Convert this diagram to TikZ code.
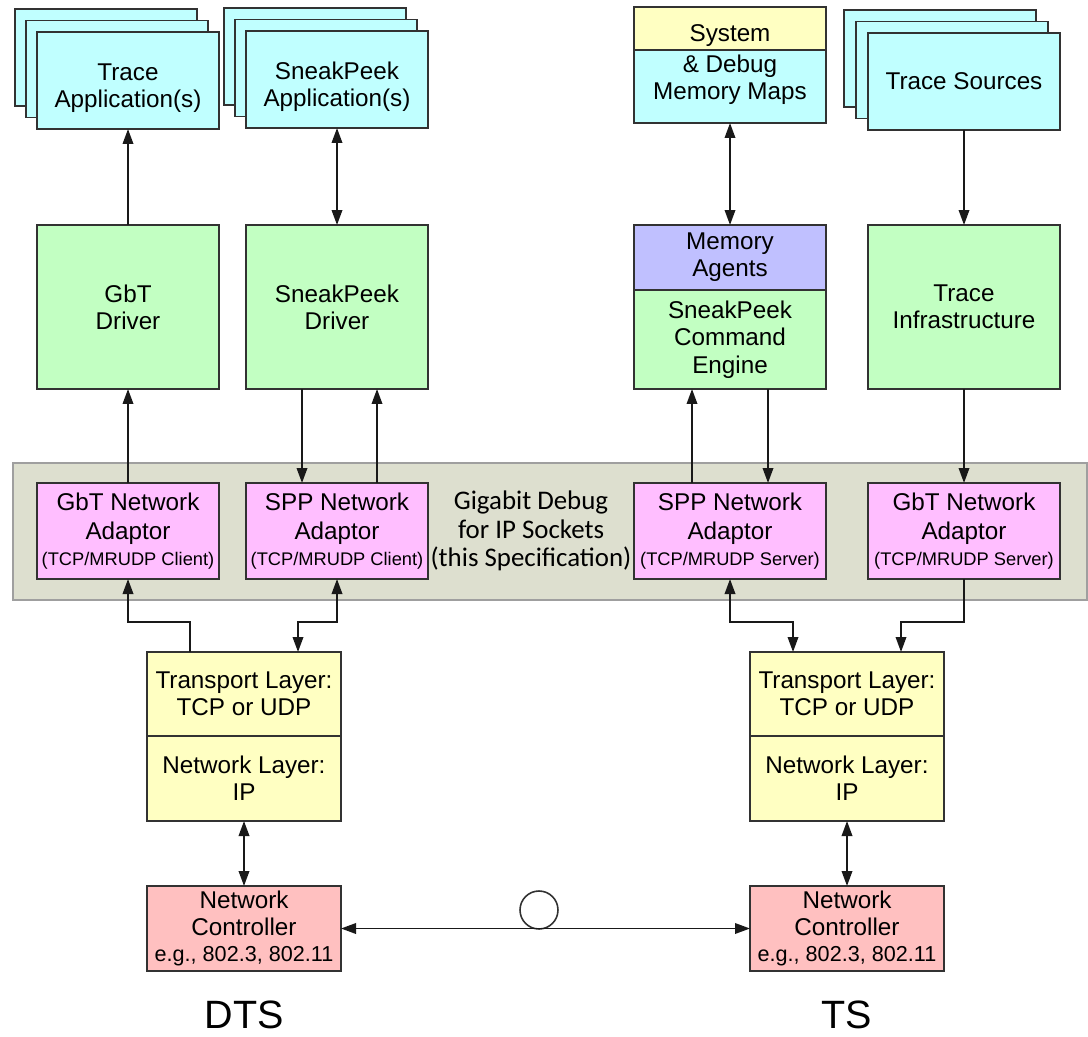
\documentclass[tikz,border=0pt]{standalone}
\usepackage{fontspec}
\setmainfont{Liberation Sans}
\newfontfamily\calfont{Carlito}
\usetikzlibrary{arrows.meta,calc}

\definecolor{appcyan}{RGB}{192,255,255}
\definecolor{drvgreen}{RGB}{194,255,194}
\definecolor{agentblue}{RGB}{192,192,255}
\definecolor{layeryellow}{RGB}{255,255,194}
\definecolor{adaptpink}{RGB}{255,190,255}
\definecolor{ctrlred}{RGB}{255,192,192}
\definecolor{bandgray}{RGB}{221,223,207}
\definecolor{edgegray}{RGB}{50,50,50}

\newcommand{\smalltxt}{\fontsize{10.4}{12}\selectfont}
\newcommand{\egtxt}{\fontsize{12.3}{14}\selectfont}

\begin{document}
\begin{tikzpicture}[x=0.02cm,y=-0.02cm,
  % a box given by its corners (x1,y1) and (x2,y2), in pixels
  rect/.style n args={4}{at={({(#1+#3)/2},{(#2+#4)/2})},
    minimum width={(#3-#1)*0.02cm}, minimum height={(#4-#2)*0.02cm}},
  blk/.style={draw=edgegray, line width=1.05pt, inner sep=0pt, outer sep=0pt,
    align=center, font=\fontsize{13.8}{15.5}\selectfont},
  cyanbox/.style={blk, fill=appcyan},
  greenbox/.style={blk, fill=drvgreen},
  pinkbox/.style={blk, fill=adaptpink},
  yellowbox/.style={blk, fill=layeryellow},
  redbox/.style={blk, fill=ctrlred},
  link/.style={line width=1.1pt, draw=black!90},
  tip/.style={-{Triangle[length=0.3cm,width=0.21cm]}},
  tipback/.style={{Triangle[length=0.3cm,width=0.21cm]}-},
  tipboth/.style={{Triangle[length=0.3cm,width=0.21cm]}-{Triangle[length=0.3cm,width=0.21cm]}}
]
\useasboundingbox (0,0) rectangle (1088,1037);

% ---------- application stacks and memory maps ----------
\node[cyanbox, rect={15}{9}{197}{106}] (tappC) {};
\node[cyanbox, rect={26}{20.5}{208}{117.5}] (tappB) {};
\node[cyanbox, rect={37}{32}{219}{129}] (tapp) {\rule{0pt}{18pt}Trace\\Application(s)};

\node[cyanbox, rect={224}{8}{406}{105}] (sappC) {};
\node[cyanbox, rect={235}{19.5}{417}{116.5}] (sappB) {};
\node[cyanbox, rect={246}{31}{428}{128}] (sapp) {\rule{0pt}{18pt}SneakPeek\\Application(s)};

% memory map box: yellow top band, one text block over the whole box
\node[cyanbox, rect={634}{7}{826}{123}] (mapsbg) {};
\node[yellowbox, rect={634}{7}{826}{50}] (sysmap) {};
\node[blk, rect={634}{7}{826}{123}] (memmaps) {System\\[2pt]\& Debug\\Memory Maps};

\node[cyanbox, rect={844}{10}{1036}{107}] (tsrcC) {};
\node[cyanbox, rect={856}{21.5}{1048}{118.5}] (tsrcB) {};
\node[cyanbox, rect={868}{33}{1060}{130}] (tsrc) {Trace Sources};

% ---------- drivers and engines ----------
\node[greenbox, rect={37}{225}{219}{389}] (gbtdrv) {GbT\\Driver};
\node[greenbox, rect={246}{225}{428}{389}] (spdrv) {SneakPeek\\Driver};
\node[blk, fill=agentblue, rect={634}{225}{826}{290}] (agents) {Memory\\Agents};
\node[greenbox, rect={634}{290}{826}{389}] (engine) {SneakPeek\\Command\\Engine};
\node[greenbox, rect={868}{225}{1060}{389}] (infra) {Trace\\Infrastructure};

% ---------- specification band with the network adaptors ----------
\node[draw=gray!75, line width=1pt, fill=bandgray, inner sep=0pt, rect={13}{463}{1087}{600}] (band) {};
\node[align=center, inner sep=0pt, font=\calfont\fontsize{15.3}{16.2}\selectfont] (spec) at (531,531)
  {Gigabit Debug\\for IP Sockets\\(this Specification)};

\node[pinkbox, rect={37}{483}{219}{579}] (gbtcli)
  {GbT Network\\[1pt]Adaptor\\[-1pt]{\smalltxt (TCP/MRUDP Client)}};
\node[pinkbox, rect={246}{483}{428}{579}] (sppcli)
  {SPP Network\\[1pt]Adaptor\\[-1pt]{\smalltxt (TCP/MRUDP Client)}};
\node[pinkbox, rect={634}{483}{826}{579}] (sppsrv)
  {SPP Network\\[1pt]Adaptor\\[-1pt]{\smalltxt (TCP/MRUDP Server)}};
\node[pinkbox, rect={868}{483}{1060}{579}] (gbtsrv)
  {GbT Network\\[1pt]Adaptor\\[-1pt]{\smalltxt (TCP/MRUDP Server)}};

% ---------- protocol stacks and controllers ----------
\node[yellowbox, rect={147}{652}{341}{736}] (transL) {Transport Layer:\\TCP or UDP};
\node[yellowbox, rect={147}{736}{341}{821}] (netL) {Network Layer:\\IP};
\node[redbox, rect={147}{886}{341}{971}] (ncL)
  {Network\\Controller\\[-1pt]{\egtxt e.g., 802.3, 802.11}};

\node[yellowbox, rect={750}{652}{944}{736}] (transR) {Transport Layer:\\TCP or UDP};
\node[yellowbox, rect={750}{736}{944}{821}] (netR) {Network Layer:\\IP};
\node[redbox, rect={750}{886}{944}{971}] (ncR)
  {Network\\Controller\\[-1pt]{\egtxt e.g., 802.3, 802.11}};

\node[draw=edgegray, line width=0.9pt, fill=white, circle, minimum size=0.76cm, inner sep=0pt] (medium) at (539,910) {};

\node[font=\fontsize{22.5}{26}\selectfont, inner sep=0pt] (dts) at (244,1015) {DTS};
\node[font=\fontsize{22.5}{26}\selectfont, inner sep=0pt] (ts) at (847,1015) {TS};

% ---------- connectors: applications <-> drivers ----------
\draw[link,tip] (gbtdrv.north) -- (tapp.south);
\draw[link,tipboth] (spdrv.north) -- (sapp.south);
\draw[link,tipboth] (agents.north) -- (memmaps.south);
\draw[link,tip] (tsrc.south) -- (infra.north);

% ---------- connectors: drivers <-> adaptors ----------
\coordinate (spdn) at ($(spdrv.south west)+(56,0)$);
\coordinate (spup) at ($(spdrv.south west)+(131,0)$);
\coordinate (enup) at ($(engine.south west)+(58,0)$);
\coordinate (endn) at ($(engine.south west)+(134,0)$);

\draw[link,tip] (gbtcli.north) -- (gbtdrv.south);
\draw[link,tip] (spdn) -- (spdn |- sppcli.north);
\draw[link,tip] (spup |- sppcli.north) -- (spup);
\draw[link,tip] (enup |- sppsrv.north) -- (enup);
\draw[link,tip] (endn) -- (endn |- sppsrv.north);
\draw[link,tip] (infra.south) -- (gbtsrv.north);

% ---------- connectors: adaptors <-> transport layers ----------
\coordinate (dL1) at ($(transL.north west)+(43,0)$);
\coordinate (dL2) at ($(transL.north west)+(151,0)$);
\coordinate (dR1) at ($(transR.north west)+(43,0)$);
\coordinate (dR2) at ($(transR.north west)+(151,0)$);

\draw[link,tip] (dL1) -- ++(0,-30) -| (gbtcli.south);
\draw[link,tipboth] (dL2) -- ++(0,-30) -| (sppcli.south);
\draw[link,tipboth] (dR1) -- ++(0,-30) -| (sppsrv.south);
\draw[link,tipback] (dR2) -- ++(0,-30) -| (gbtsrv.south);

% ---------- connectors: network layers <-> controllers ----------
\draw[link,tipboth] (netL.south) -- (ncL.north);
\draw[link,tipboth] (netR.south) -- (ncR.north);
\draw[link,tipboth] (ncL.east) -- (ncR.west);
\end{tikzpicture}
\end{document}
